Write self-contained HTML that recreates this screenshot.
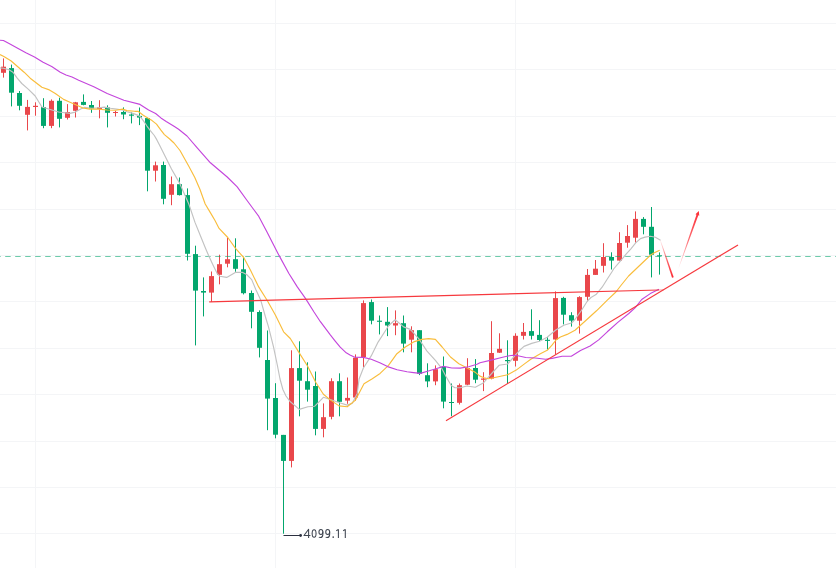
<!DOCTYPE html><html><head><meta charset="utf-8"><style>html,body{margin:0;padding:0;background:#fff;}svg{display:block}</style></head><body>
<svg width="836" height="568" viewBox="0 0 836 568" font-family="Liberation Sans, sans-serif">
<rect width="836" height="568" fill="#fff"/>
<g stroke="#f4f5f7" stroke-width="1"><line x1="0" y1="23.5" x2="836" y2="23.5"/><line x1="0" y1="69.5" x2="836" y2="69.5"/><line x1="0" y1="116.5" x2="836" y2="116.5"/><line x1="0" y1="162.5" x2="836" y2="162.5"/><line x1="0" y1="209.5" x2="836" y2="209.5"/><line x1="0" y1="255.5" x2="836" y2="255.5"/><line x1="0" y1="301.5" x2="836" y2="301.5"/><line x1="0" y1="348.5" x2="836" y2="348.5"/><line x1="0" y1="394.5" x2="836" y2="394.5"/><line x1="0" y1="441.5" x2="836" y2="441.5"/><line x1="0" y1="487.5" x2="836" y2="487.5"/><line x1="0" y1="533.5" x2="836" y2="533.5"/><line x1="35.5" y1="0" x2="35.5" y2="568"/><line x1="275.5" y1="0" x2="275.5" y2="568"/><line x1="515.5" y1="0" x2="515.5" y2="568"/></g>
<rect x="3.0" y="58.4" width="1" height="19.2" fill="#e9474b"/><rect x="1.0" y="66.7" width="5" height="6.1" fill="#e9474b"/><rect x="11.0" y="64.6" width="1" height="41.8" fill="#03a66d"/><rect x="9.0" y="68.1" width="5" height="24.6" fill="#03a66d"/><rect x="19.0" y="91.0" width="1" height="19.3" fill="#03a66d"/><rect x="17.0" y="93.0" width="5" height="12.8" fill="#03a66d"/><rect x="27.0" y="99.9" width="1" height="30.5" fill="#e9474b"/><rect x="25.0" y="106.9" width="5" height="7.9" fill="#e9474b"/><rect x="35.0" y="102.3" width="1" height="13.4" fill="#e9474b"/><rect x="33.0" y="105.8" width="5" height="1.2" fill="#e9474b"/><rect x="43.0" y="98.2" width="1" height="30.0" fill="#03a66d"/><rect x="41.0" y="107.0" width="5" height="18.9" fill="#03a66d"/><rect x="51.0" y="99.4" width="1" height="28.8" fill="#e9474b"/><rect x="49.0" y="100.8" width="5" height="25.1" fill="#e9474b"/><rect x="59.0" y="97.7" width="1" height="29.7" fill="#03a66d"/><rect x="57.0" y="100.8" width="5" height="18.0" fill="#03a66d"/><rect x="67.0" y="104.1" width="1" height="15.4" fill="#e9474b"/><rect x="65.0" y="112.0" width="5" height="5.8" fill="#e9474b"/><rect x="75.0" y="101.9" width="1" height="15.6" fill="#e9474b"/><rect x="73.0" y="102.3" width="5" height="8.5" fill="#e9474b"/><rect x="83.0" y="94.4" width="1" height="10.9" fill="#03a66d"/><rect x="81.0" y="101.9" width="5" height="3.0" fill="#03a66d"/><rect x="91.0" y="101.0" width="1" height="11.8" fill="#03a66d"/><rect x="89.0" y="105.0" width="5" height="3.6" fill="#03a66d"/><rect x="99.0" y="100.2" width="1" height="18.1" fill="#e9474b"/><rect x="97.0" y="107.4" width="5" height="1.6" fill="#e9474b"/><rect x="107.0" y="105.3" width="1" height="22.1" fill="#03a66d"/><rect x="105.0" y="107.4" width="5" height="5.4" fill="#03a66d"/><rect x="115.0" y="110.8" width="1" height="5.7" fill="#e9474b"/><rect x="113.0" y="112.0" width="5" height="1.0" fill="#e9474b"/><rect x="123.0" y="107.4" width="1" height="11.8" fill="#03a66d"/><rect x="121.0" y="112.0" width="5" height="2.5" fill="#03a66d"/><rect x="131.0" y="112.3" width="1" height="11.1" fill="#03a66d"/><rect x="129.0" y="114.5" width="5" height="1.2" fill="#03a66d"/><rect x="139.0" y="107.5" width="1" height="17.6" fill="#03a66d"/><rect x="137.0" y="115.9" width="5" height="1.7" fill="#03a66d"/><rect x="147.0" y="117.6" width="1" height="73.7" fill="#03a66d"/><rect x="145.0" y="118.1" width="5" height="52.6" fill="#03a66d"/><rect x="155.0" y="161.6" width="1" height="19.9" fill="#e9474b"/><rect x="153.0" y="165.3" width="5" height="5.4" fill="#e9474b"/><rect x="163.0" y="161.6" width="1" height="42.7" fill="#03a66d"/><rect x="161.0" y="165.0" width="5" height="33.8" fill="#03a66d"/><rect x="171.0" y="176.5" width="1" height="28.7" fill="#e9474b"/><rect x="169.0" y="184.2" width="5" height="10.6" fill="#e9474b"/><rect x="179.0" y="177.5" width="1" height="18.0" fill="#03a66d"/><rect x="177.0" y="184.2" width="5" height="10.9" fill="#03a66d"/><rect x="187.0" y="188.4" width="1" height="72.1" fill="#03a66d"/><rect x="185.0" y="195.1" width="5" height="58.7" fill="#03a66d"/><rect x="195.0" y="245.7" width="1" height="99.7" fill="#03a66d"/><rect x="193.0" y="254.1" width="5" height="36.5" fill="#03a66d"/><rect x="203.0" y="277.4" width="1" height="39.0" fill="#03a66d"/><rect x="201.0" y="291.0" width="5" height="1.6" fill="#03a66d"/><rect x="211.0" y="271.5" width="1" height="30.4" fill="#e9474b"/><rect x="209.0" y="276.1" width="5" height="16.5" fill="#e9474b"/><rect x="219.0" y="254.7" width="1" height="29.6" fill="#e9474b"/><rect x="217.0" y="264.2" width="5" height="10.6" fill="#e9474b"/><rect x="227.0" y="237.8" width="1" height="29.5" fill="#e9474b"/><rect x="225.0" y="259.2" width="5" height="4.5" fill="#e9474b"/><rect x="235.0" y="238.3" width="1" height="33.5" fill="#03a66d"/><rect x="233.0" y="259.2" width="5" height="9.6" fill="#03a66d"/><rect x="243.0" y="256.7" width="1" height="37.7" fill="#03a66d"/><rect x="241.0" y="269.3" width="5" height="23.9" fill="#03a66d"/><rect x="251.0" y="290.5" width="1" height="37.8" fill="#03a66d"/><rect x="249.0" y="293.0" width="5" height="18.8" fill="#03a66d"/><rect x="259.0" y="310.4" width="1" height="47.0" fill="#03a66d"/><rect x="257.0" y="312.0" width="5" height="35.8" fill="#03a66d"/><rect x="267.0" y="330.5" width="1" height="99.7" fill="#03a66d"/><rect x="265.0" y="360.0" width="5" height="38.6" fill="#03a66d"/><rect x="275.0" y="383.2" width="1" height="55.1" fill="#03a66d"/><rect x="273.0" y="398.0" width="5" height="36.7" fill="#03a66d"/><rect x="283.0" y="434.9" width="1" height="98.8" fill="#03a66d"/><rect x="281.0" y="434.9" width="5" height="26.0" fill="#03a66d"/><rect x="291.0" y="350.3" width="1" height="117.1" fill="#e9474b"/><rect x="289.0" y="368.1" width="5" height="92.8" fill="#e9474b"/><rect x="299.0" y="341.3" width="1" height="75.0" fill="#03a66d"/><rect x="297.0" y="368.1" width="5" height="12.6" fill="#03a66d"/><rect x="307.0" y="362.3" width="1" height="39.3" fill="#03a66d"/><rect x="305.0" y="381.2" width="5" height="8.5" fill="#03a66d"/><rect x="315.0" y="371.5" width="1" height="63.8" fill="#03a66d"/><rect x="313.0" y="386.0" width="5" height="42.9" fill="#03a66d"/><rect x="323.0" y="403.4" width="1" height="33.9" fill="#e9474b"/><rect x="321.0" y="417.2" width="5" height="11.7" fill="#e9474b"/><rect x="331.0" y="378.3" width="1" height="41.0" fill="#e9474b"/><rect x="329.0" y="381.2" width="5" height="35.6" fill="#e9474b"/><rect x="339.0" y="373.3" width="1" height="43.0" fill="#03a66d"/><rect x="337.0" y="381.2" width="5" height="20.6" fill="#03a66d"/><rect x="347.0" y="377.5" width="1" height="26.3" fill="#e9474b"/><rect x="345.0" y="397.9" width="5" height="2.7" fill="#e9474b"/><rect x="355.0" y="354.4" width="1" height="46.3" fill="#e9474b"/><rect x="353.0" y="357.7" width="5" height="39.8" fill="#e9474b"/><rect x="363.0" y="300.4" width="1" height="66.7" fill="#e9474b"/><rect x="361.0" y="303.1" width="5" height="53.9" fill="#e9474b"/><rect x="371.0" y="299.5" width="1" height="24.8" fill="#03a66d"/><rect x="369.0" y="302.1" width="5" height="18.6" fill="#03a66d"/><rect x="379.0" y="315.5" width="1" height="18.9" fill="#03a66d"/><rect x="377.0" y="320.7" width="5" height="1.1" fill="#03a66d"/><rect x="387.0" y="307.1" width="1" height="29.0" fill="#03a66d"/><rect x="385.0" y="321.8" width="5" height="3.7" fill="#03a66d"/><rect x="395.0" y="310.4" width="1" height="24.8" fill="#e9474b"/><rect x="393.0" y="323.2" width="5" height="2.3" fill="#e9474b"/><rect x="403.0" y="315.5" width="1" height="36.8" fill="#03a66d"/><rect x="401.0" y="323.2" width="5" height="20.4" fill="#03a66d"/><rect x="411.0" y="326.3" width="1" height="26.0" fill="#e9474b"/><rect x="409.0" y="330.2" width="5" height="9.5" fill="#e9474b"/><rect x="419.0" y="330.2" width="1" height="44.9" fill="#03a66d"/><rect x="417.0" y="330.2" width="5" height="43.6" fill="#03a66d"/><rect x="427.0" y="363.3" width="1" height="23.9" fill="#03a66d"/><rect x="425.0" y="375.2" width="5" height="6.2" fill="#03a66d"/><rect x="435.0" y="365.4" width="1" height="19.8" fill="#e9474b"/><rect x="433.0" y="369.2" width="5" height="12.2" fill="#e9474b"/><rect x="443.0" y="356.5" width="1" height="51.8" fill="#03a66d"/><rect x="441.0" y="366.8" width="5" height="34.8" fill="#03a66d"/><rect x="451.0" y="383.5" width="1" height="32.7" fill="#03a66d"/><rect x="449.0" y="402.0" width="5" height="1.0" fill="#03a66d"/><rect x="459.0" y="383.5" width="1" height="21.0" fill="#e9474b"/><rect x="457.0" y="385.2" width="5" height="17.6" fill="#e9474b"/><rect x="467.0" y="358.2" width="1" height="27.0" fill="#e9474b"/><rect x="465.0" y="368.0" width="5" height="16.7" fill="#e9474b"/><rect x="475.0" y="359.1" width="1" height="24.1" fill="#03a66d"/><rect x="473.0" y="368.0" width="5" height="11.7" fill="#03a66d"/><rect x="483.0" y="372.2" width="1" height="18.9" fill="#e9474b"/><rect x="481.0" y="378.5" width="5" height="1.3" fill="#e9474b"/><rect x="491.0" y="321.2" width="1" height="58.1" fill="#e9474b"/><rect x="489.0" y="353.0" width="5" height="25.6" fill="#e9474b"/><rect x="499.0" y="333.3" width="1" height="19.7" fill="#e9474b"/><rect x="497.0" y="348.8" width="5" height="3.9" fill="#e9474b"/><rect x="507.0" y="340.3" width="1" height="43.6" fill="#03a66d"/><rect x="505.0" y="360.0" width="5" height="1.2" fill="#03a66d"/><rect x="515.0" y="333.3" width="1" height="33.2" fill="#e9474b"/><rect x="513.0" y="335.8" width="5" height="25.0" fill="#e9474b"/><rect x="523.0" y="323.0" width="1" height="16.5" fill="#e9474b"/><rect x="521.0" y="331.9" width="5" height="3.9" fill="#e9474b"/><rect x="531.0" y="309.3" width="1" height="30.2" fill="#03a66d"/><rect x="529.0" y="331.1" width="5" height="4.7" fill="#03a66d"/><rect x="539.0" y="320.2" width="1" height="20.9" fill="#03a66d"/><rect x="537.0" y="334.9" width="5" height="5.1" fill="#03a66d"/><rect x="547.0" y="337.0" width="1" height="12.5" fill="#03a66d"/><rect x="545.0" y="339.8" width="5" height="1.1" fill="#03a66d"/><rect x="555.0" y="291.4" width="1" height="63.1" fill="#e9474b"/><rect x="553.0" y="298.1" width="5" height="41.4" fill="#e9474b"/><rect x="563.0" y="296.8" width="1" height="27.6" fill="#03a66d"/><rect x="561.0" y="297.9" width="5" height="16.8" fill="#03a66d"/><rect x="571.0" y="312.2" width="1" height="14.4" fill="#03a66d"/><rect x="569.0" y="315.2" width="5" height="5.5" fill="#03a66d"/><rect x="579.0" y="296.2" width="1" height="37.4" fill="#e9474b"/><rect x="577.0" y="297.1" width="5" height="23.6" fill="#e9474b"/><rect x="587.0" y="269.0" width="1" height="32.4" fill="#e9474b"/><rect x="585.0" y="274.9" width="5" height="21.9" fill="#e9474b"/><rect x="595.0" y="260.0" width="1" height="14.9" fill="#e9474b"/><rect x="593.0" y="268.7" width="5" height="6.2" fill="#e9474b"/><rect x="603.0" y="243.2" width="1" height="29.3" fill="#e9474b"/><rect x="601.0" y="257.0" width="5" height="8.8" fill="#e9474b"/><rect x="611.0" y="252.3" width="1" height="17.2" fill="#03a66d"/><rect x="609.0" y="257.0" width="5" height="3.6" fill="#03a66d"/><rect x="619.0" y="232.2" width="1" height="28.4" fill="#e9474b"/><rect x="617.0" y="243.0" width="5" height="17.6" fill="#e9474b"/><rect x="627.0" y="225.1" width="1" height="22.6" fill="#e9474b"/><rect x="625.0" y="236.0" width="5" height="6.7" fill="#e9474b"/><rect x="635.0" y="211.4" width="1" height="31.3" fill="#e9474b"/><rect x="633.0" y="218.9" width="5" height="18.8" fill="#e9474b"/><rect x="643.0" y="217.1" width="1" height="17.2" fill="#03a66d"/><rect x="641.0" y="218.9" width="5" height="7.9" fill="#03a66d"/><rect x="651.0" y="207.0" width="1" height="70.4" fill="#03a66d"/><rect x="649.0" y="226.8" width="5" height="27.9" fill="#03a66d"/><rect x="659.0" y="252.4" width="1" height="22.2" fill="#03a66d"/><rect x="657.0" y="255.3" width="5" height="1.0" fill="#03a66d"/>
<line x1="0" y1="256.5" x2="836" y2="256.5" stroke="#03a66d" stroke-opacity="0.58" stroke-width="1" stroke-dasharray="5.5,4.5" stroke-dashoffset="4.8"/>
<path d="M0.0,67.9 L3.4,68.3 L8.6,69.6 L12.9,72.2 L17.2,78.2 L21.8,83.5 L28.5,89.4 L35.2,96.0 L41.9,107.0 L50.2,109.5 L58.6,112.0 L70.0,113.4 L75.2,112.1 L81.2,108.7 L84.7,107.4 L91.6,108.3 L98.4,107.8 L104.5,107.1 L110.5,108.3 L116.6,109.1 L122.6,110.0 L126.9,111.7 L132.9,113.4 L138.1,115.4 L139.8,116.2 L143.3,120.6 L146.8,125.8 L150.3,130.7 L154.3,135.5 L156.9,139.9 L160.0,146.1 L163.5,153.1 L167.0,160.0 L171.5,169.0 L179.3,182.6 L188.8,204.0 L195.0,222.4 L200.3,235.5 L205.8,249.0 L208.6,255.5 L213.0,265.0 L217.2,273.6 L219.8,276.2 L226.7,277.4 L235.3,272.4 L242.2,272.3 L246.6,274.5 L251.7,279.6 L255.8,289.5 L260.8,300.3 L265.5,317.0 L268.5,326.8 L273.5,346.9 L277.3,365.0 L280.0,379.0 L282.9,389.5 L286.0,396.0 L289.8,401.2 L299.3,409.4 L307.9,406.8 L314.8,406.2 L323.4,397.3 L330.3,399.5 L338.8,402.5 L347.2,405.1 L352.2,403.4 L357.2,393.4 L359.1,379.0 L363.4,368.0 L371.2,355.9 L378.1,342.1 L385.9,330.0 L388.5,325.7 L395.2,319.8 L403.6,326.9 L410.3,329.4 L418.7,338.6 L427.0,351.1 L435.4,360.4 L441.7,368.3 L446.0,376.5 L451.2,385.5 L455.0,387.8 L460.2,387.7 L466.9,386.0 L475.3,387.2 L483.7,382.7 L487.8,377.8 L493.0,372.0 L499.0,365.3 L507.6,364.0 L512.0,359.0 L516.2,354.1 L520.0,350.0 L524.0,346.4 L531.7,343.4 L539.5,341.2 L547.2,337.3 L555.4,330.3 L563.8,325.2 L572.1,322.7 L575.3,319.0 L581.4,310.5 L587.4,301.0 L591.0,297.5 L596.0,294.6 L602.1,287.2 L607.0,279.5 L612.0,271.7 L613.6,269.0 L620.1,261.3 L626.1,254.2 L630.9,248.8 L635.7,242.8 L640.5,238.6 L645.0,237.1 L650.4,236.2 L655.4,237.2 L660.5,240.2" fill="none" stroke="#c2c2c2" stroke-width="1.15" stroke-linejoin="round"/>
<path d="M0.0,54.6 L4.3,56.7 L11.2,61.0 L17.2,66.2 L24.1,72.2 L30.2,78.2 L41.9,87.2 L48.6,89.6 L55.3,93.5 L63.6,99.4 L70.0,102.2 L78.6,106.1 L82.9,108.0 L89.8,109.1 L98.4,109.1 L107.0,110.0 L115.7,110.2 L122.6,109.1 L126.9,110.6 L134.7,111.3 L138.0,111.3 L143.3,115.3 L147.7,117.9 L152.1,120.6 L156.5,124.1 L160.9,130.2 L164.4,134.6 L169.7,139.0 L174.0,143.0 L180.0,150.5 L188.8,166.2 L194.8,177.4 L200.0,189.5 L205.2,204.0 L210.5,212.9 L215.0,220.5 L219.1,228.4 L227.8,237.5 L235.5,248.3 L243.7,257.5 L250.4,270.1 L258.7,286.9 L267.1,300.3 L275.5,315.3 L283.6,331.8 L290.3,338.5 L298.6,351.9 L307.5,366.0 L315.7,382.2 L323.4,394.3 L330.3,399.9 L339.0,405.9 L347.2,406.8 L355.5,400.1 L364.0,383.7 L372.3,378.7 L380.1,373.4 L388.5,365.4 L396.9,353.7 L405.3,347.0 L413.6,341.9 L422.0,339.4 L428.7,338.6 L435.4,339.4 L442.1,347.0 L450.5,357.0 L458.9,363.7 L467.2,367.9 L475.6,372.6 L480.0,376.1 L484.0,377.8 L488.6,378.7 L497.2,377.0 L507.6,374.8 L516.2,370.1 L524.8,363.6 L530.8,359.3 L540.3,353.7 L547.2,350.3 L552.0,345.2 L556.0,340.0 L560.4,337.0 L567.1,334.4 L575.0,330.2 L585.8,320.5 L596.5,310.8 L607.3,300.1 L615.9,292.0 L621.3,285.0 L628.6,276.0 L637.0,268.0 L645.4,260.0 L649.8,255.8 L653.3,253.2 L659.7,250.2" fill="none" stroke="#f9bd3c" stroke-width="1.15" stroke-linejoin="round"/>
<path d="M0.0,40.2 L3.4,40.5 L8.6,43.3 L17.2,48.1 L25.9,52.8 L34.5,57.1 L43.1,62.3 L51.7,66.6 L60.3,72.2 L66.0,75.0 L72.0,77.0 L78.7,80.2 L93.8,86.8 L107.2,93.5 L123.9,100.2 L140.0,104.4 L148.6,110.0 L155.6,113.5 L160.9,117.9 L166.2,121.4 L174.0,126.3 L178.6,129.3 L187.0,136.0 L197.0,147.7 L210.4,162.8 L227.2,177.0 L237.2,186.8 L246.7,200.0 L258.8,216.4 L267.0,231.9 L279.0,255.4 L288.9,273.5 L297.3,286.9 L305.6,298.6 L314.0,312.0 L320.4,321.7 L330.5,335.1 L335.0,340.8 L340.2,347.2 L346.2,352.8 L350.0,355.0 L354.8,357.2 L363.4,357.4 L371.2,359.3 L379.8,362.8 L387.6,366.6 L397.1,369.7 L407.0,371.8 L413.6,372.6 L420.3,373.4 L428.4,371.0 L436.8,368.5 L443.5,366.4 L451.8,368.0 L460.2,368.1 L468.6,366.8 L477.0,364.3 L480.0,362.7 L491.2,360.1 L501.6,357.5 L508.0,356.0 L512.8,355.3 L517.9,355.8 L525.7,357.5 L535.2,358.0 L545.5,359.3 L552.0,358.4 L562.1,356.2 L571.3,356.2 L580.5,350.6 L590.1,346.0 L598.7,339.9 L607.3,331.8 L618.1,322.1 L628.8,313.5 L635.3,307.6 L641.7,299.5 L650.3,293.6 L659.0,289.3" fill="none" stroke="#c446dc" stroke-width="1.15" stroke-linejoin="round"/>
<line x1="209.2" y1="301.8" x2="659" y2="290.0" stroke="#f6393e" stroke-width="1.2"/>
<line x1="659" y1="290.0" x2="663.7" y2="289.9" stroke="#f6393e" stroke-opacity="0.45" stroke-width="1.2"/>
<line x1="446" y1="420.7" x2="738" y2="244.9" stroke="#f6393e" stroke-width="1.2"/>
<defs><linearGradient id="gd" x1="660.2" y1="240" x2="672.8" y2="277.3" gradientUnits="userSpaceOnUse"><stop offset="0" stop-color="#fc2d35" stop-opacity="0.05"/><stop offset="0.55" stop-color="#fc2d35" stop-opacity="0.75"/><stop offset="1" stop-color="#fc2d35" stop-opacity="1"/></linearGradient><linearGradient id="gu" x1="678.5" y1="268.4" x2="698.8" y2="211" gradientUnits="userSpaceOnUse"><stop offset="0" stop-color="#fc2d35" stop-opacity="0.03"/><stop offset="0.5" stop-color="#fc2d35" stop-opacity="0.7"/><stop offset="1" stop-color="#fc2d35" stop-opacity="1"/></linearGradient></defs>
<path d="M659.87,240.11 L671.95,277.59 L672.99,277.87 L673.65,277.01 L660.53,239.89 Z" fill="url(#gd)"/>
<path d="M678.69,268.47 L698.34,215.29 L699.29,215.63 L698.80,211.00 L695.51,214.29 L696.46,214.63 L678.31,268.33 Z" fill="url(#gu)"/>
<line x1="283.5" y1="535.5" x2="300.5" y2="535.5" stroke="#2b3040" stroke-width="1"/>
<circle cx="300.6" cy="535.5" r="1.4" fill="#2b3040"/>
<g fill="none" stroke="#3f4550" stroke-width="1.05" stroke-linejoin="round"><path d="M308.6,537.9 V529.2 L304.0,535.5 H310.4"/><ellipse cx="314.1" cy="533.45" rx="1.95" ry="3.75"/><ellipse cx="320.90" cy="532.0" rx="1.95" ry="2.45"/><path d="M322.85,531.6 V534.6 Q322.70,537.55 320.40,537.55 Q319.40,537.55 318.90,537.0"/><ellipse cx="327.70" cy="532.0" rx="1.95" ry="2.45"/><path d="M329.65,531.6 V534.6 Q329.50,537.55 327.20,537.55 Q326.20,537.55 325.70,537.0"/><path d="M338.4,529.2 V537.9 M338.4,529.4 L336.3,530.8"/><path d="M345.3,529.2 V537.9 M345.3,529.4 L343.2,530.8"/></g>
<rect x="332.5" y="536.4" width="1.45" height="1.45" fill="#3f4550"/>
</svg></body></html>
